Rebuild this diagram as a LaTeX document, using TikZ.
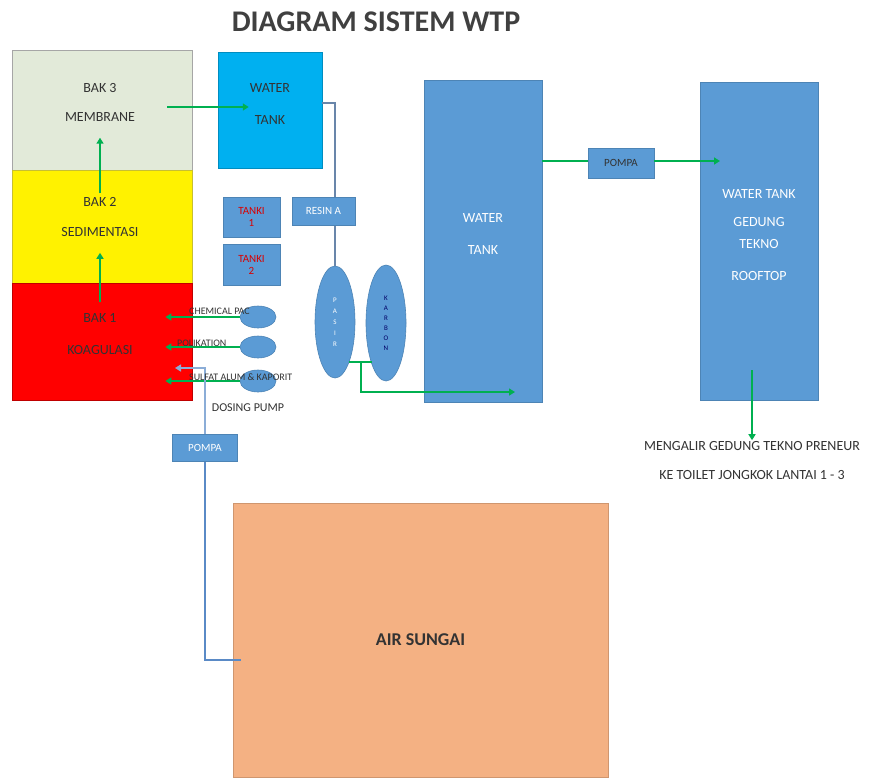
\documentclass[tikz,border=0pt]{standalone}
\usepackage{fontspec}
\setmainfont{Carlito}
\usetikzlibrary{calc,arrows.meta,shapes.geometric}
\definecolor{bakgrey}{HTML}{E2EAD9}
\definecolor{tankblue}{HTML}{5B9BD5}
\definecolor{skyblue}{HTML}{00B0F0}
\definecolor{riverorange}{HTML}{F4B183}
\definecolor{flowgreen}{HTML}{00B050}
\definecolor{pipeblue}{HTML}{5A8AC6}

\begin{document}
\begin{tikzpicture}[x=1pt,y=-1pt,
  bak/.style={rectangle,inner sep=0pt,fill=#1,draw=#1!75!black,line width=.8pt},
  tankbox/.style={rectangle,inner sep=0pt,fill=tankblue,draw=tankblue!85!black,line width=.8pt},
  filter/.style={ellipse,inner sep=0pt,fill=tankblue,draw=tankblue!85!black,line width=.6pt},
  lbl/.style={font=\fontsize{14}{16}\selectfont,text=black!80,inner sep=1pt},
  slbl/.style={lbl,font=\fontsize{11}{12}\selectfont},
  wlbl/.style={lbl,text=white},
  flow/.style={draw=flowgreen,line width=2pt,-{Triangle[width=7pt,length=6pt]}},
  pipe/.style={draw=pipeblue,line width=2.4pt},
  thinpipe/.style={draw=pipeblue!60!gray,line width=1.6pt}]
\useasboundingbox[fill=white] (0,0) rectangle (869,777);
\node[font=\bfseries\fontsize{30}{32}\selectfont,text=black!75] (title) at (376,22) {DIAGRAM SISTEM WTP};
% bak
\node[bak=bakgrey,draw=gray!70,minimum width=180,minimum height=120] (bak3) at (102,110) {};
\node[bak=yellow,minimum width=180,minimum height=113] (bak2) at (102,226.5) {};
\node[bak=red,minimum width=180,minimum height=117] (bak1) at (102,341.5) {};
\node[lbl] (b3a) at (100,88) {BAK 3}; \node[lbl] (b3b) at (100,117) {MEMBRANE};
\node[lbl] (b2a) at (100,202) {BAK 2}; \node[lbl] (b2b) at (100,232) {SEDIMENTASI};
\node[lbl] (b1a) at (100,318) {BAK 1}; \node[lbl] (b1b) at (100,350) {KOAGULASI};
\draw[flow,shorten <=3pt,shorten >=15pt] (b2a.north) -- (b3b.south);
\draw[flow,shorten <=10pt,shorten >=15pt] (b1a.north) -- (b2b.south);
% tanks
\node[bak=skyblue,draw=skyblue!80!black,minimum width=104,minimum height=116] (wts) at (270,110) {};
\node[lbl] (wtsa) at (270,88) {WATER}; \node[lbl] (wtsb) at (270,120) {TANK};
\coordinate (m1) at (167,107);
\draw[flow] (m1) -- (m1 -| wtsa.west);
\node[filter,minimum width=40,minimum height=112] (sandf) at (335,322) {};
\node[filter,minimum width=40,minimum height=116] (carbf) at (386,323) {};
\node[wlbl,align=center,font=\fontsize{7}{11}\selectfont] at (sandf) {P\\A\\S\\I\\R};
\node[lbl,align=center,font=\fontsize{7}{10}\selectfont,text=blue!40!black] at (carbf) {K\\A\\R\\B\\O\\N};
\draw[thinpipe] ($(wts.east)+(0,-7)$) -| (sandf.north);
\node[tankbox,minimum width=63,minimum height=28] (resin) at (323.5,211) {};
\node[slbl,text=white] at (resin) {RESIN A};
\node[tankbox,minimum width=57,minimum height=40] (tk1) at (251.5,217) {};
\node[tankbox,minimum width=57,minimum height=41] (tk2) at (251.5,264.5) {};
\node[slbl,text=red!85!black,align=center] at (tk1) {TANKI\\1};
\node[slbl,text=red!85!black,align=center] at (tk2) {TANKI\\2};
\node[tankbox,minimum width=118,minimum height=322] (wtb) at (483,241) {};
\node[wlbl] (wtba) at (483,218) {WATER}; \node[wlbl] (wtbb) at (483,250) {TANK};
\coordinate (ct) at (515,392);
\draw[flow,-] (sandf.south east) -- (sandf.south east -| carbf.south west);
\draw[flow] ($(sandf.south east)!.5!(sandf.south east -| carbf.south west)$) |- (ct);
\node[tankbox,minimum width=66,minimum height=30] (pompa2) at (621,163) {};
\node[slbl] at (pompa2) {POMPA};
\node[tankbox,minimum width=118,minimum height=318] (wtr) at (759,241) {};
\foreach \y/\t in {194/WATER TANK,222/GEDUNG,244/TEKNO,276/ROOFTOP} \node[wlbl] at (759,\y) {\t};
\coordinate (rt) at (720,161);
\draw[flow,-] (wtb.east |- 0,161) -- (pompa2.west |- 0,161);
\draw[flow] (pompa2.east |- 0,161) -- (rt);
\coordinate (r1) at (752,370);
\node[lbl] (out1) at (752,446) {MENGALIR GEDUNG TEKNO PRENEUR};
\node[lbl] (out2) at (752,475) {KE TOILET JONGKOK LANTAI 1 - 3};
\draw[flow] (r1) -- (out1.north);
% dosing
\foreach \n/\y in {d1/317,d2/347,d3/381} {
  \node[filter,minimum width=36,minimum height=22] (\n) at (258,\y) {};
  \draw[flow] (\n.west) -- ($(\n.west -| bak1.east)+(-27,0)$);
}
\node[lbl,font=\fontsize{12}{13}\selectfont] (dp) at (248,408) {DOSING PUMP};
% sungai
\node[bak=riverorange,draw=riverorange!85!black,minimum width=375,minimum height=274] (sungai) at (420.5,640) {};
\node[font=\bfseries\fontsize{18}{20}\selectfont,text=black!80] at (sungai) {AIR SUNGAI};
\node[tankbox,minimum width=65,minimum height=27] (pompa1) at (205,448) {};
\node[slbl,text=white] at (pompa1) {POMPA};
\coordinate (bk) at (175,368);
\draw[pipe] ($(sungai.west)+(8,20)$) -| (pompa1.south);
\draw[pipe,-{Triangle[width=7pt,length=6pt]},draw=pipeblue!70] (pompa1.north) |- (bk);
\node[slbl,font=\fontsize{10}{11}\selectfont,anchor=west] (dl1) at (188,311) {CHEMICAL PAC};
\node[slbl,font=\fontsize{10}{11}\selectfont,anchor=west] (dl2) at (176,343) {POLIKATION};
\node[slbl,font=\fontsize{10}{11}\selectfont,anchor=west] (dl3) at (188,377) {SULFAT ALUM \& KAPORIT};
\end{tikzpicture}
\end{document}
